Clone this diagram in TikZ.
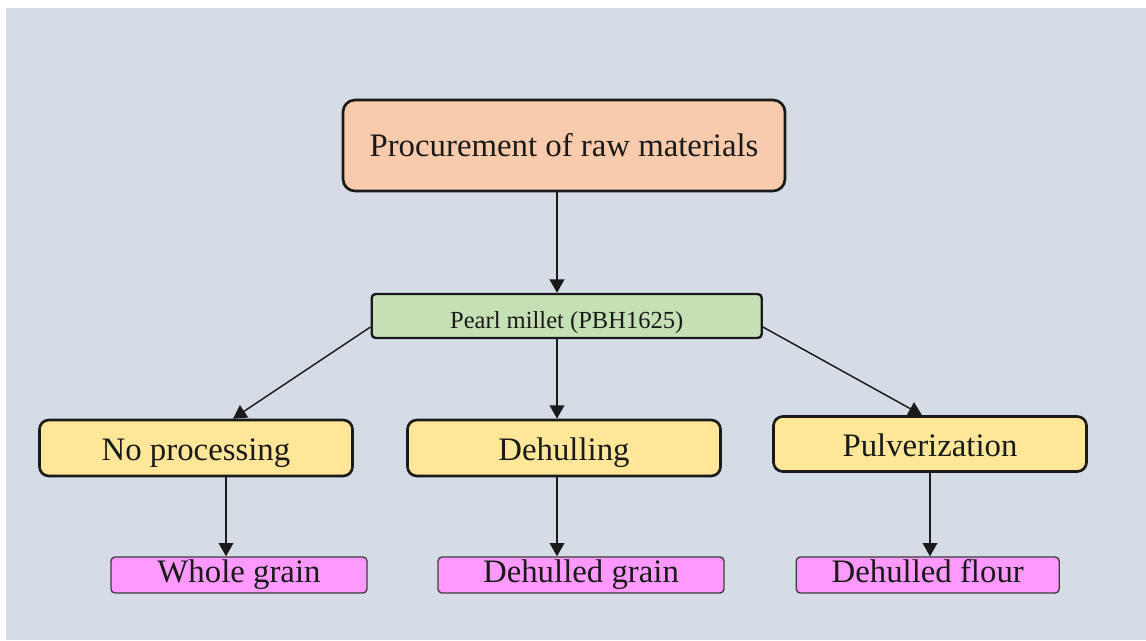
\documentclass[tikz,border=0pt]{standalone}
\usepackage{fontspec}
\setmainfont{Liberation Serif}
\usetikzlibrary{arrows.meta}
\definecolor{bgc}{HTML}{D6DCE5}
\definecolor{peach}{HTML}{F8CBAD}
\definecolor{mint}{HTML}{C5E0B4}
\definecolor{butter}{HTML}{FFE699}
\definecolor{pinkbox}{HTML}{FF99FF}
\definecolor{ink}{HTML}{1A1A1A}
\tikzset{
  mainbox/.style={draw=ink, line width=2pt, rounded corners=9pt, inner sep=0pt,
    font=\fontsize{24.6}{28}\selectfont, text=ink, text height=18pt, text depth=0pt},
  stagebox/.style={mainbox, fill=butter, rounded corners=7pt, minimum width=234.75pt, minimum height=42pt},
  productbox/.style={draw=ink!85, line width=1pt, rounded corners=3pt, inner sep=0pt, fill=pinkbox,
    minimum height=27pt, font=\fontsize{24.6}{28}\selectfont, text=ink, text height=11.5pt, text depth=0pt},
  arr/.style={draw=ink, line width=1.1pt, -{Triangle[width=11pt,length=10pt]}}
}
\begin{document}
\begin{tikzpicture}[x=0.75pt,y=-0.75pt]
\useasboundingbox (0,0) rectangle (1146,640);
\fill[white] (0,0) rectangle (1146,640);
\fill[bgc] (6,8) rectangle (1146,640);

\coordinate (cA) at (226,0);
\coordinate (cB) at (557,0);
\coordinate (cC) at (930,0);

\node[mainbox, fill=peach, minimum width=331.5pt, minimum height=68.25pt, text height=16.8pt] (proc) at (564,145.5) {Procurement of raw materials};
\node[mainbox, fill=mint, rounded corners=3pt, line width=1.8pt, minimum width=292.5pt, minimum height=33pt,
      font=\fontsize{18.4}{22}\selectfont, text height=18pt] (pearl) at (566.7,316) {Pearl millet (PBH1625)};

\node[stagebox] (noproc) at (196,448) {No processing};
\node[stagebox] (dehull) at (564,448) {Dehulling};
\node[stagebox, minimum height=41.25pt] (pulv) at (930,444) {Pulverization};

\node[productbox, minimum width=192pt] (whole) at (239,575) {Whole grain};
\node[productbox, minimum width=214.5pt] (dgrain) at (581,575) {Dehulled grain};
\node[productbox, minimum width=197.25pt] (dflour) at (927.7,575) {Dehulled flour};

\draw[arr] (proc.south -| cB) -- (pearl.north -| cB);
\draw[arr] ([yshift=-8.25pt]pearl.west) -- ([xshift=27.75pt]noproc.north);
\draw[arr] (pearl.south -| cB) -- (dehull.north -| cB);
\draw[arr] ([yshift=-8.25pt]pearl.east) -- ([xshift=-6pt]pulv.north);

\draw[arr] (noproc.south -| cA) -- (whole.north -| cA);
\draw[arr] (dehull.south -| cB) -- (dgrain.north -| cB);
\draw[arr] (pulv.south -| cC) -- (dflour.north -| cC);
\end{tikzpicture}
\end{document}
